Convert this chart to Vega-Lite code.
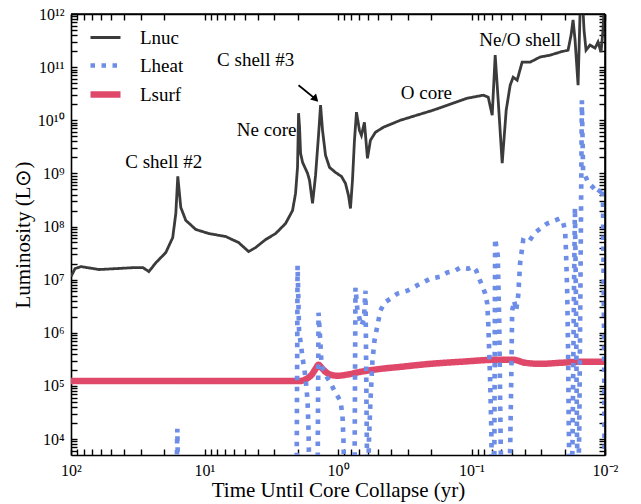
{
  "$schema": "https://vega.github.io/schema/vega-lite/v6.json",
  "width": 534,
  "height": 441,
  "autosize": {"type": "none"},
  "padding": {"left": 71, "top": 14, "right": 36, "bottom": 49},
  "background": "white",
  "config": {
    "view": {"stroke": null},
    "font": "Liberation Serif",
    "axis": {
      "domainColor": "black", "domainWidth": 1.6, "tickColor": "black", "tickWidth": 1.4,
      "labelFont": "Liberation Serif", "labelFontSize": 16, "labelColor": "black",
      "titleFont": "Liberation Serif", "titleFontSize": 21, "titleFontWeight": "normal", "titleColor": "black",
      "grid": false, "labelOverlap": false, "labelFlush": false
    },
    "legend": {
      "orient": "none", "legendX": 16, "legendY": 7, "labelFont": "Liberation Serif", "labelFontSize": 19,
      "labelColor": "black", "symbolType": "stroke", "symbolSize": 900, "labelOffset": 16, "rowPadding": 0
    }
  },
  "datasets": {
    "lines": [
      {"series": "Lnuc", "t": 100, "L": 1.14e7}, {"series": "Lnuc", "t": 93.3, "L": 1.61e7}, {"series": "Lnuc", "t": 84.2, "L": 1.76e7},
      {"series": "Lnuc", "t": 61.75, "L": 1.55e7}, {"series": "Lnuc", "t": 46.1, "L": 1.61e7}, {"series": "Lnuc", "t": 34.4, "L": 1.68e7},
      {"series": "Lnuc", "t": 28.9, "L": 1.68e7}, {"series": "Lnuc", "t": 26.1, "L": 1.42e7}, {"series": "Lnuc", "t": 23.1, "L": 2.09e7},
      {"series": "Lnuc", "t": 19.5, "L": 3.23e7}, {"series": "Lnuc", "t": 17.3, "L": 6.19e7}, {"series": "Lnuc", "t": 16.4, "L": 1.76e8},
      {"series": "Lnuc", "t": 15.85, "L": 8.77e8}, {"series": "Lnuc", "t": 15.05, "L": 2.28e8}, {"series": "Lnuc", "t": 13.8, "L": 1.30e8},
      {"series": "Lnuc", "t": 11.6, "L": 8.77e7}, {"series": "Lnuc", "t": 9.29, "L": 7.38e7}, {"series": "Lnuc", "t": 6.94, "L": 6.47e7},
      {"series": "Lnuc", "t": 5.55, "L": 4.99e7}, {"series": "Lnuc", "t": 4.67, "L": 3.37e7}, {"series": "Lnuc", "t": 4.14, "L": 4.02e7},
      {"series": "Lnuc", "t": 3.48, "L": 5.69e7}, {"series": "Lnuc", "t": 2.93, "L": 7.38e7}, {"series": "Lnuc", "t": 2.47, "L": 1.14e8},
      {"series": "Lnuc", "t": 2.19, "L": 2.0e8}, {"series": "Lnuc", "t": 2.08, "L": 4.2e8}, {"series": "Lnuc", "t": 2.01, "L": 1.3e9},
      {"series": "Lnuc", "t": 1.974, "L": 1.36e10}, {"series": "Lnuc", "t": 1.941, "L": 7.38e9}, {"series": "Lnuc", "t": 1.907, "L": 2.38e9},
      {"series": "Lnuc", "t": 1.842, "L": 1.61e9}, {"series": "Lnuc", "t": 1.69, "L": 1.0e9}, {"series": "Lnuc", "t": 1.634, "L": 7.38e8},
      {"series": "Lnuc", "t": 1.551, "L": 2.72e8}, {"series": "Lnuc", "t": 1.473, "L": 9.16e8}, {"series": "Lnuc", "t": 1.399, "L": 5.21e9},
      {"series": "Lnuc", "t": 1.351, "L": 1.92e10}, {"series": "Lnuc", "t": 1.306, "L": 6.47e9}, {"series": "Lnuc", "t": 1.24, "L": 2.19e9},
      {"series": "Lnuc", "t": 1.158, "L": 1.3e9}, {"series": "Lnuc", "t": 1.044, "L": 1.04e9}, {"series": "Lnuc", "t": 0.9414, "L": 8.77e8},
      {"series": "Lnuc", "t": 0.8789, "L": 6.47e8}, {"series": "Lnuc", "t": 0.8346, "L": 3.85e8}, {"series": "Lnuc", "t": 0.8064, "L": 2.19e8},
      {"series": "Lnuc", "t": 0.7791, "L": 7.38e8}, {"series": "Lnuc", "t": 0.7527, "L": 4.2e9}, {"series": "Lnuc", "t": 0.7271, "L": 1.42e10},
      {"series": "Lnuc", "t": 0.6909, "L": 6.47e9}, {"series": "Lnuc", "t": 0.6675, "L": 5.21e9}, {"series": "Lnuc", "t": 0.6339, "L": 9.16e9},
      {"series": "Lnuc", "t": 0.6175, "L": 4.2e9}, {"series": "Lnuc", "t": 0.6017, "L": 1.92e9}, {"series": "Lnuc", "t": 0.5715, "L": 4.2e9},
      {"series": "Lnuc", "t": 0.5244, "L": 5.94e9}, {"series": "Lnuc", "t": 0.4569, "L": 7.38e9}, {"series": "Lnuc", "t": 0.341, "L": 1.0e10},
      {"series": "Lnuc", "t": 0.1932, "L": 1.55e10}, {"series": "Lnuc", "t": 0.1076, "L": 2.6e10}, {"series": "Lnuc", "t": 0.0817, "L": 2.96e10},
      {"series": "Lnuc", "t": 0.07494, "L": 2.72e10}, {"series": "Lnuc", "t": 0.06997, "L": 1.24e10}, {"series": "Lnuc", "t": 0.06646, "L": 1.68e11},
      {"series": "Lnuc", "t": 0.0631, "L": 2.38e10}, {"series": "Lnuc", "t": 0.0589, "L": 1.55e9}, {"series": "Lnuc", "t": 0.05497, "L": 1.55e10},
      {"series": "Lnuc", "t": 0.05131, "L": 4.57e10}, {"series": "Lnuc", "t": 0.04874, "L": 6.47e10}, {"series": "Lnuc", "t": 0.04549, "L": 5.69e10},
      {"series": "Lnuc", "t": 0.04175, "L": 1.24e11}, {"series": "Lnuc", "t": 0.03637, "L": 1.24e11}, {"series": "Lnuc", "t": 0.03062, "L": 1.55e11},
      {"series": "Lnuc", "t": 0.02578, "L": 1.68e11}, {"series": "Lnuc", "t": 0.0217, "L": 1.92e11}, {"series": "Lnuc", "t": 0.0189, "L": 2.09e11},
      {"series": "Lnuc", "t": 0.01795, "L": 4.02e11}, {"series": "Lnuc", "t": 0.01735, "L": 7.71e11}, {"series": "Lnuc", "t": 0.01676, "L": 3.23e11},
      {"series": "Lnuc", "t": 0.01591, "L": 4.57e10}, {"series": "Lnuc", "t": 0.01538, "L": 1.04e12}, {"series": "Lnuc", "t": 0.01486, "L": 2.8e12},
      {"series": "Lnuc", "t": 0.01436, "L": 4.99e11}, {"series": "Lnuc", "t": 0.01387, "L": 2.09e11}, {"series": "Lnuc", "t": 0.01295, "L": 2.6e11},
      {"series": "Lnuc", "t": 0.01188, "L": 2.28e11}, {"series": "Lnuc", "t": 0.01128, "L": 2.96e11}, {"series": "Lnuc", "t": 0.01071, "L": 1.92e11},
      {"series": "Lnuc", "t": 0.01035, "L": 4.99e11}, {"series": "Lnuc", "t": 0.01, "L": 2.8e12},

      {"series": "Lheat", "t": 100, "L": 1000}, {"series": "Lheat", "t": 16.26, "L": 1000}, {"series": "Lheat", "t": 15.98, "L": 1.55e4},
      {"series": "Lheat", "t": 15.71, "L": 1000}, {"series": "Lheat", "t": 2.043, "L": 1000}, {"series": "Lheat", "t": 2.008, "L": 1.84e7},
      {"series": "Lheat", "t": 1.957, "L": 1.09e6}, {"series": "Lheat", "t": 1.842, "L": 3.37e5}, {"series": "Lheat", "t": 1.75, "L": 1.42e5},
      {"series": "Lheat", "t": 1.69, "L": 5.21e4}, {"series": "Lheat", "t": 1.662, "L": 1.42e4}, {"series": "Lheat", "t": 1.634, "L": 1000},
      {"series": "Lheat", "t": 1.423, "L": 1000}, {"series": "Lheat", "t": 1.399, "L": 2.38e6}, {"series": "Lheat", "t": 1.375, "L": 1.19e6},
      {"series": "Lheat", "t": 1.351, "L": 5.69e5}, {"series": "Lheat", "t": 1.328, "L": 2.38e5}, {"series": "Lheat", "t": 1.24, "L": 1.61e5},
      {"series": "Lheat", "t": 1.138, "L": 1.14e5}, {"series": "Lheat", "t": 1.044, "L": 7.38e4}, {"series": "Lheat", "t": 0.958, "L": 5.21e4},
      {"series": "Lheat", "t": 0.9256, "L": 2.72e4}, {"series": "Lheat", "t": 0.9097, "L": 9.16e3}, {"series": "Lheat", "t": 0.8943, "L": 1000},
      {"series": "Lheat", "t": 0.7527, "L": 1000}, {"series": "Lheat", "t": 0.7398, "L": 7.06e6}, {"series": "Lheat", "t": 0.7147, "L": 2.6e6},
      {"series": "Lheat", "t": 0.6675, "L": 1.36e6}, {"series": "Lheat", "t": 0.6393, "L": 1.84e6}, {"series": "Lheat", "t": 0.6229, "L": 6.19e6},
      {"series": "Lheat", "t": 0.6175, "L": 7.06e5}, {"series": "Lheat", "t": 0.6121, "L": 5.21e4}, {"series": "Lheat", "t": 0.6069, "L": 5.94e3},
      {"series": "Lheat", "t": 0.5966, "L": 1000}, {"series": "Lheat", "t": 0.5864, "L": 9.16e3}, {"series": "Lheat", "t": 0.5715, "L": 5.21e4},
      {"series": "Lheat", "t": 0.5521, "L": 2.96e5}, {"series": "Lheat", "t": 0.5334, "L": 7.06e5}, {"series": "Lheat", "t": 0.5067, "L": 1.36e6},
      {"series": "Lheat", "t": 0.4811, "L": 2.6e6}, {"series": "Lheat", "t": 0.449, "L": 3.68e6}, {"series": "Lheat", "t": 0.405, "L": 4.38e6},
      {"series": "Lheat", "t": 0.359, "L": 5.45e6}, {"series": "Lheat", "t": 0.3022, "L": 6.19e6}, {"series": "Lheat", "t": 0.2416, "L": 8.41e6},
      {"series": "Lheat", "t": 0.2034, "L": 1.04e7}, {"series": "Lheat", "t": 0.1713, "L": 1.14e7}, {"series": "Lheat", "t": 0.1518, "L": 1.36e7},
      {"series": "Lheat", "t": 0.1322, "L": 1.48e7}, {"series": "Lheat", "t": 0.1214, "L": 1.68e7}, {"series": "Lheat", "t": 0.1057, "L": 1.61e7},
      {"series": "Lheat", "t": 0.097, "L": 1.76e7}, {"series": "Lheat", "t": 0.0921, "L": 1.48e7}, {"series": "Lheat", "t": 0.089, "L": 1.14e7},
      {"series": "Lheat", "t": 0.0831, "L": 7.71e6}, {"series": "Lheat", "t": 0.0789, "L": 5.45e6}, {"series": "Lheat", "t": 0.0762, "L": 3.52e6},
      {"series": "Lheat", "t": 0.0749, "L": 1.48e6}, {"series": "Lheat", "t": 0.0737, "L": 4.57e5}, {"series": "Lheat", "t": 0.0724, "L": 1.09e5},
      {"series": "Lheat", "t": 0.0712, "L": 1.92e4}, {"series": "Lheat", "t": 0.07, "L": 1000}, {"series": "Lheat", "t": 0.0676, "L": 1000},
      {"series": "Lheat", "t": 0.0665, "L": 5.94e7}, {"series": "Lheat", "t": 0.0636, "L": 2.84e7}, {"series": "Lheat", "t": 0.062, "L": 1.68e6},
      {"series": "Lheat", "t": 0.061, "L": 5.21e4}, {"series": "Lheat", "t": 0.0604, "L": 7.38e3}, {"series": "Lheat", "t": 0.0594, "L": 1000},
      {"series": "Lheat", "t": 0.0522, "L": 1000}, {"series": "Lheat", "t": 0.0513, "L": 7.38e3}, {"series": "Lheat", "t": 0.0504, "L": 1.24e5},
      {"series": "Lheat", "t": 0.0496, "L": 2.6e6}, {"series": "Lheat", "t": 0.0479, "L": 4.02e6}, {"series": "Lheat", "t": 0.0463, "L": 2.6e6},
      {"series": "Lheat", "t": 0.0447, "L": 4.99e6}, {"series": "Lheat", "t": 0.0432, "L": 2.09e7}, {"series": "Lheat", "t": 0.041, "L": 5.45e7},
      {"series": "Lheat", "t": 0.0376, "L": 4.99e7}, {"series": "Lheat", "t": 0.0334, "L": 7.71e7}, {"series": "Lheat", "t": 0.0271, "L": 1.14e8},
      {"series": "Lheat", "t": 0.0236, "L": 1.3e8}, {"series": "Lheat", "t": 0.0217, "L": 1.42e8}, {"series": "Lheat", "t": 0.0206, "L": 1.19e8},
      {"series": "Lheat", "t": 0.0199, "L": 8.41e7}, {"series": "Lheat", "t": 0.0196, "L": 3.52e7}, {"series": "Lheat", "t": 0.0192, "L": 6.19e6},
      {"series": "Lheat", "t": 0.0189, "L": 4.57e5}, {"series": "Lheat", "t": 0.0187, "L": 2.19e4}, {"series": "Lheat", "t": 0.0184, "L": 1000},
      {"series": "Lheat", "t": 0.0178, "L": 1000}, {"series": "Lheat", "t": 0.0175, "L": 9.16e3}, {"series": "Lheat", "t": 0.0171, "L": 4.02e6},
      {"series": "Lheat", "t": 0.0168, "L": 2.28e8}, {"series": "Lheat", "t": 0.0165, "L": 4.02e6}, {"series": "Lheat", "t": 0.0162, "L": 1.04e4},
      {"series": "Lheat", "t": 0.0159, "L": 1000}, {"series": "Lheat", "t": 0.0156, "L": 1.24e4}, {"series": "Lheat", "t": 0.0152, "L": 3.52e7},
      {"series": "Lheat", "t": 0.0149, "L": 2.38e10}, {"series": "Lheat", "t": 0.0146, "L": 1.14e9}, {"series": "Lheat", "t": 0.0134, "L": 6.76e8},
      {"series": "Lheat", "t": 0.0123, "L": 5.45e8}, {"series": "Lheat", "t": 0.0113, "L": 4.2e8}, {"series": "Lheat", "t": 0.0105, "L": 5.45e8},
      {"series": "Lheat", "t": 0.01035, "L": 3.1e8}, {"series": "Lheat", "t": 0.01017, "L": 1.09e6}, {"series": "Lheat", "t": 0.01009, "L": 9.16e3},
      {"series": "Lheat", "t": 0.01, "L": 1000},

      {"series": "Lsurf", "t": 100, "L": 1.24e5}, {"series": "Lsurf", "t": 1.907, "L": 1.24e5}, {"series": "Lsurf", "t": 1.72, "L": 1.36e5},
      {"series": "Lsurf", "t": 1.578, "L": 1.61e5}, {"series": "Lsurf", "t": 1.473, "L": 2.09e5}, {"series": "Lsurf", "t": 1.399, "L": 2.49e5},
      {"series": "Lsurf", "t": 1.328, "L": 2.19e5}, {"series": "Lsurf", "t": 1.24, "L": 1.84e5}, {"series": "Lsurf", "t": 1.118, "L": 1.61e5},
      {"series": "Lsurf", "t": 1.009, "L": 1.55e5}, {"series": "Lsurf", "t": 0.879, "L": 1.61e5}, {"series": "Lsurf", "t": 0.679, "L": 1.84e5},
      {"series": "Lsurf", "t": 0.481, "L": 2.09e5}, {"series": "Lsurf", "t": 0.341, "L": 2.28e5}, {"series": "Lsurf", "t": 0.2034, "L": 2.6e5},
      {"series": "Lsurf", "t": 0.1214, "L": 2.84e5}, {"series": "Lsurf", "t": 0.0642, "L": 3.1e5}, {"series": "Lsurf", "t": 0.0487, "L": 3.1e5},
      {"series": "Lsurf", "t": 0.0396, "L": 2.72e5}, {"series": "Lsurf", "t": 0.0306, "L": 2.6e5}, {"series": "Lsurf", "t": 0.0217, "L": 2.72e5},
      {"series": "Lsurf", "t": 0.0154, "L": 2.84e5}, {"series": "Lsurf", "t": 0.01, "L": 2.84e5}
    ],
    "notes": [
      {"t": 20.2, "L": 1.61e9, "text": "C shell #2"},
      {"t": 3.425, "L": 6.47e9, "text": "Ne core"},
      {"t": 4.14, "L": 1.36e11, "text": "C shell #3"},
      {"t": 0.218, "L": 3.23e10, "text": "O core"},
      {"t": 0.0432, "L": 3.23e11, "text": "Ne/O shell"}
    ],
    "arrow": [
      {"t": 1.974, "L": 4.57e10, "t2": 1.47, "L2": 2.5e10}
    ],
    "head": [
      {"t": 1.47, "L": 2.5e10}
    ]
  },
  "layer": [
    {
      "data": {"name": "lines"},
      "transform": [{"filter": "datum.series == 'Lsurf'"}],
      "mark": {"type": "line", "clip": true, "interpolate": "monotone"},
      "encoding": {
        "x": {"field": "t", "type": "quantitative", "scale": {"type": "log", "domain": [0.01, 100], "reverse": true},
          "axis": {"orient": "bottom", "values": [100,90,80,70,60,50,40,30,20,10,9,8,7,6,5,4,3,2,1,0.9,0.8,0.7,0.6,0.5,0.4,0.3,0.2,0.1,0.09,0.08,0.07,0.06,0.05,0.04,0.03,0.02,0.01],
            "labelExpr": "datum.value==100?'10²':datum.value==10?'10¹':datum.value==1?'10⁰':datum.value==0.1?'10⁻¹':datum.value==0.01?'10⁻²':''",
            "tickSize": -6, "labelPadding": 13, "title": "Time Until Core Collapse (yr)", "titlePadding": 1}},
        "y": {"field": "L", "type": "quantitative", "scale": {"type": "log", "domain": [5000, 1e12]},
          "axis": {"orient": "left", "values": [6000,7000,8000,9000,10000,20000,30000,40000,50000,60000,70000,80000,90000,1e5,2e5,3e5,4e5,5e5,6e5,7e5,8e5,9e5,1e6,2e6,3e6,4e6,5e6,6e6,7e6,8e6,9e6,1e7,2e7,3e7,4e7,5e7,6e7,7e7,8e7,9e7,1e8,2e8,3e8,4e8,5e8,6e8,7e8,8e8,9e8,1e9,2e9,3e9,4e9,5e9,6e9,7e9,8e9,9e9,1e10,2e10,3e10,4e10,5e10,6e10,7e10,8e10,9e10,1e11,2e11,3e11,4e11,5e11,6e11,7e11,8e11,9e11,1e12],
            "labelExpr": "abs(log(datum.value)/LN10-round(log(datum.value)/LN10))<0.000001 ? '10'+['⁰','¹','²','³','⁴','⁵','⁶','⁷','⁸','⁹','¹⁰','¹¹','¹²'][round(log(datum.value)/LN10)] : ''",
            "tickSize": -6, "labelPadding": 13, "title": "Luminosity (L⊙)", "titlePadding": 4}},
        "color": {"field": "series", "type": "nominal", "scale": {"domain": ["Lnuc", "Lheat", "Lsurf"], "range": ["#3b3b3b", "#6d8de6", "#e0486a"]}, "legend": {"title": null}},
        "strokeDash": {"field": "series", "type": "nominal", "scale": {"domain": ["Lnuc", "Lheat", "Lsurf"], "range": [[1, 0], [4.5, 6.5], [1, 0]]}, "legend": {"title": null}},
        "strokeWidth": {"field": "series", "type": "nominal", "scale": {"domain": ["Lnuc", "Lheat", "Lsurf"], "range": [2.8, 6.5]}, "legend": {"title": null}}
      }
    },
    {
      "data": {"name": "lines"},
      "transform": [{"filter": "datum.series == 'Lheat'"}],
      "mark": {"type": "line", "clip": true},
      "encoding": {
        "x": {"field": "t", "type": "quantitative", "scale": {"type": "log", "domain": [0.01, 100], "reverse": true},
          "axis": {"orient": "top", "values": [100,90,80,70,60,50,40,30,20,10,9,8,7,6,5,4,3,2,1,0.9,0.8,0.7,0.6,0.5,0.4,0.3,0.2,0.1,0.09,0.08,0.07,0.06,0.05,0.04,0.03,0.02,0.01],
            "labels": false, "title": null, "tickSize": -6}},
        "y": {"field": "L", "type": "quantitative", "scale": {"type": "log", "domain": [5000, 1e12]},
          "axis": {"orient": "right", "values": [6000,7000,8000,9000,10000,20000,30000,40000,50000,60000,70000,80000,90000,1e5,2e5,3e5,4e5,5e5,6e5,7e5,8e5,9e5,1e6,2e6,3e6,4e6,5e6,6e6,7e6,8e6,9e6,1e7,2e7,3e7,4e7,5e7,6e7,7e7,8e7,9e7,1e8,2e8,3e8,4e8,5e8,6e8,7e8,8e8,9e8,1e9,2e9,3e9,4e9,5e9,6e9,7e9,8e9,9e9,1e10,2e10,3e10,4e10,5e10,6e10,7e10,8e10,9e10,1e11,2e11,3e11,4e11,5e11,6e11,7e11,8e11,9e11,1e12],
            "labels": false, "title": null, "tickSize": -6}},
        "color": {"field": "series", "type": "nominal", "scale": {"domain": ["Lnuc", "Lheat", "Lsurf"], "range": ["#3b3b3b", "#6d8de6", "#e0486a"]}, "legend": {"title": null}},
        "strokeDash": {"field": "series", "type": "nominal", "scale": {"domain": ["Lnuc", "Lheat", "Lsurf"], "range": [[1, 0], [4.5, 6.5], [1, 0]]}, "legend": {"title": null}},
        "strokeWidth": {"field": "series", "type": "nominal", "scale": {"domain": ["Lnuc", "Lheat", "Lsurf"], "range": [2.8, 6.5]}, "legend": {"title": null}}
      }
    },
    {
      "data": {"name": "lines"},
      "transform": [{"filter": "datum.series == 'Lnuc'"}],
      "mark": {"type": "line", "clip": true},
      "encoding": {
        "x": {"field": "t", "type": "quantitative", "scale": {"type": "log", "domain": [0.01, 100], "reverse": true}, "axis": null},
        "y": {"field": "L", "type": "quantitative", "scale": {"type": "log", "domain": [5000, 1e12]}, "axis": null},
        "color": {"field": "series", "type": "nominal", "scale": {"domain": ["Lnuc", "Lheat", "Lsurf"], "range": ["#3b3b3b", "#6d8de6", "#e0486a"]}, "legend": {"title": null}},
        "strokeDash": {"field": "series", "type": "nominal", "scale": {"domain": ["Lnuc", "Lheat", "Lsurf"], "range": [[1, 0], [4.5, 6.5], [1, 0]]}, "legend": {"title": null}},
        "strokeWidth": {"field": "series", "type": "nominal", "scale": {"domain": ["Lnuc", "Lheat", "Lsurf"], "range": [2.8, 6.5]}, "legend": {"title": null}}
      }
    },
    {
      "data": {"name": "notes"},
      "mark": {"type": "text", "font": "Liberation Serif", "fontSize": 19, "color": "black", "align": "center", "baseline": "middle"},
      "encoding": {
        "x": {"field": "t", "type": "quantitative", "scale": {"type": "log", "domain": [0.01, 100], "reverse": true}, "axis": null},
        "y": {"field": "L", "type": "quantitative", "scale": {"type": "log", "domain": [5000, 1e12]}, "axis": null},
        "text": {"field": "text", "type": "nominal"}
      }
    },
    {
      "data": {"name": "arrow"},
      "mark": {"type": "rule", "color": "black", "strokeWidth": 1.8},
      "encoding": {
        "x": {"field": "t", "type": "quantitative", "scale": {"type": "log", "domain": [0.01, 100], "reverse": true}, "axis": null},
        "y": {"field": "L", "type": "quantitative", "scale": {"type": "log", "domain": [5000, 1e12]}, "axis": null},
        "x2": {"field": "t2"},
        "y2": {"field": "L2"}
      }
    },
    {
      "data": {"name": "head"},
      "mark": {"type": "point", "shape": "triangle-down", "filled": true, "color": "black", "opacity": 1, "size": 70, "angle": 315},
      "encoding": {
        "x": {"field": "t", "type": "quantitative", "scale": {"type": "log", "domain": [0.01, 100], "reverse": true}, "axis": null},
        "y": {"field": "L", "type": "quantitative", "scale": {"type": "log", "domain": [5000, 1e12]}, "axis": null}
      }
    },
    {
      "data": {"values": [{}]},
      "mark": {"type": "rule", "color": "black", "strokeWidth": 1.6, "clip": false},
      "encoding": {
        "x": {"datum": 100, "type": "quantitative", "scale": {"type": "log", "domain": [0.01, 100], "reverse": true}, "axis": null},
        "x2": {"datum": 0.01},
        "y": {"datum": 1e12, "type": "quantitative", "scale": {"type": "log", "domain": [5000, 1e12]}, "axis": null}
      }
    },
    {
      "data": {"values": [{}]},
      "mark": {"type": "rule", "color": "black", "strokeWidth": 1.6, "clip": false},
      "encoding": {
        "x": {"datum": 0.01, "type": "quantitative", "scale": {"type": "log", "domain": [0.01, 100], "reverse": true}, "axis": null},
        "y": {"datum": 5000, "type": "quantitative", "scale": {"type": "log", "domain": [5000, 1e12]}, "axis": null},
        "y2": {"datum": 1e12}
      }
    }
  ],
  "resolve": {"axis": {"x": "independent", "y": "independent"}}
}
